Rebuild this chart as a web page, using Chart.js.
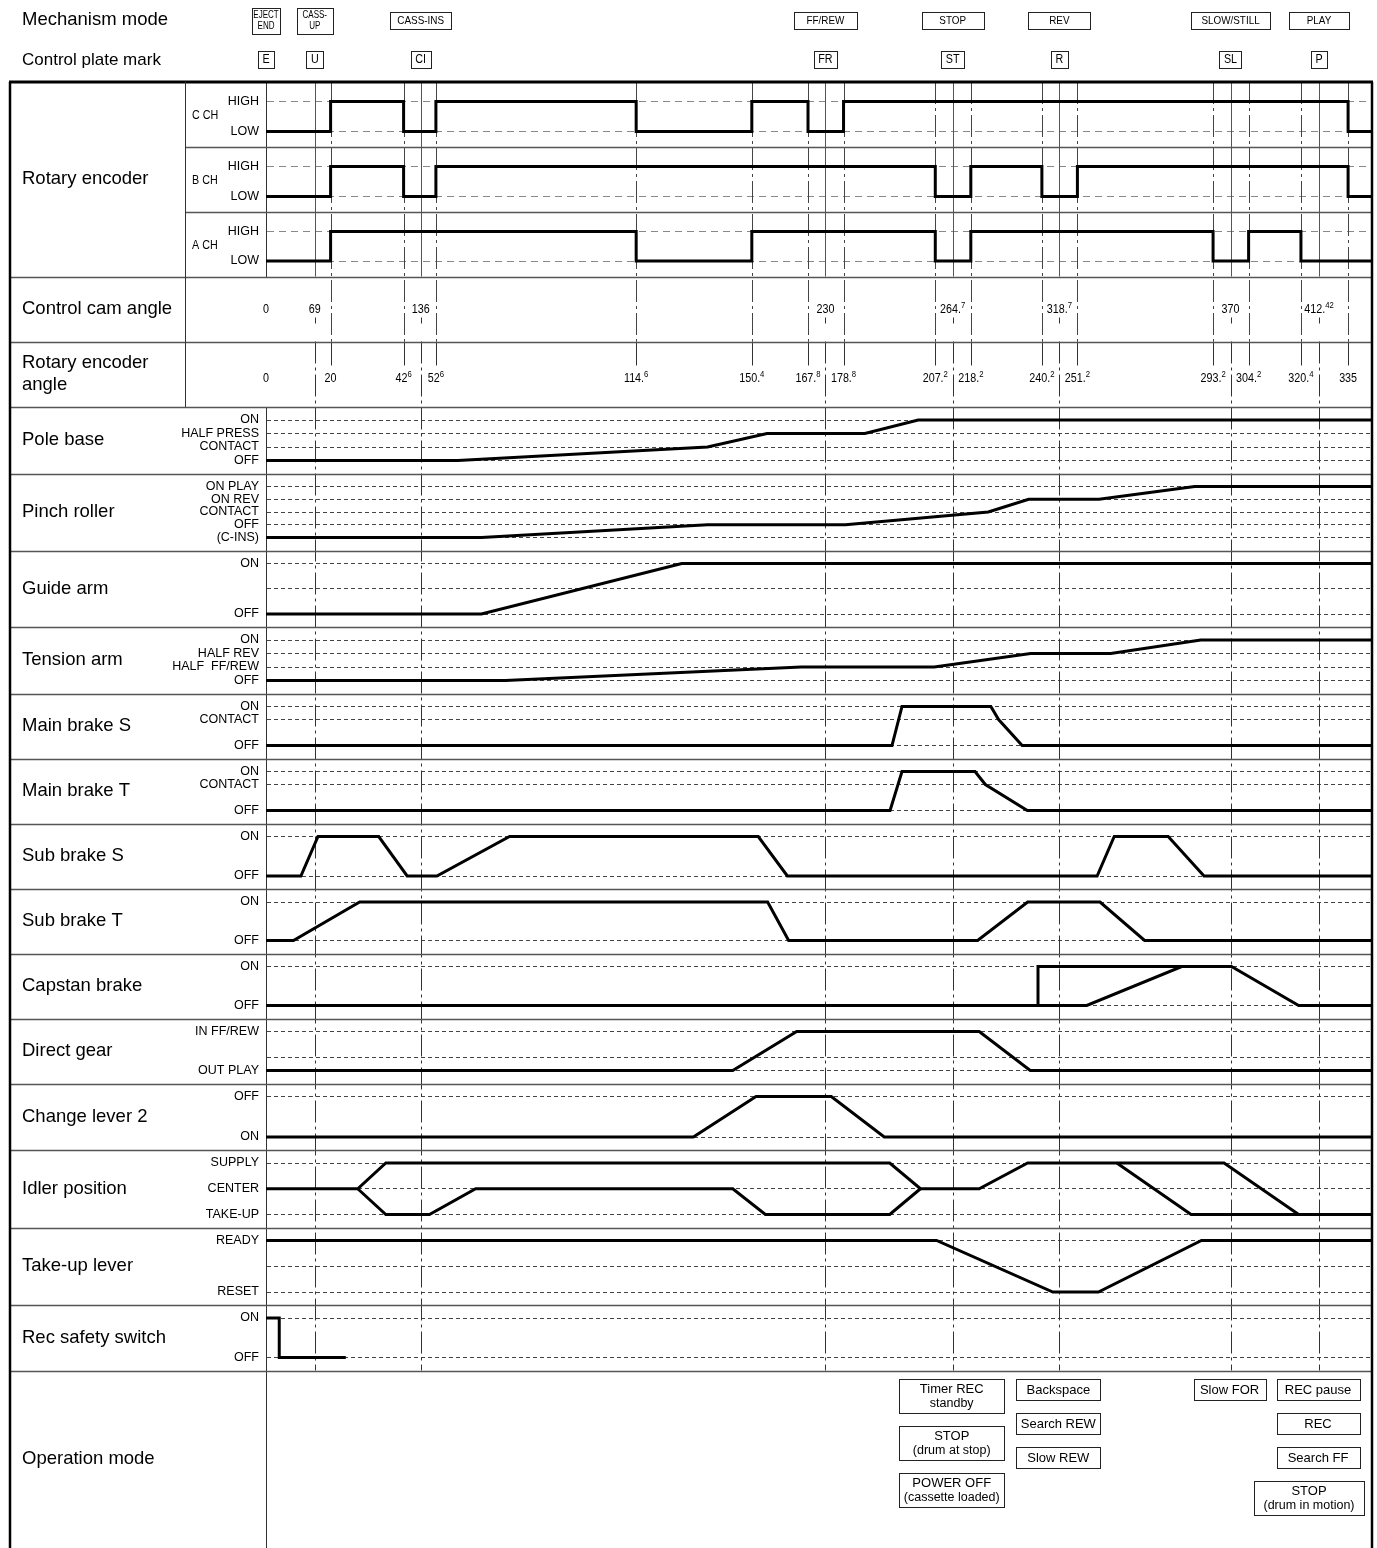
<!DOCTYPE html>
<html>
<head>
<meta charset="utf-8">
<title>Mechanism timing chart</title>
<script src="https://cdn.jsdelivr.net/npm/chart.js@4.4.1/dist/chart.umd.min.js"></script>
<style>
  html, body { margin: 0; padding: 0; background: #fff; }
  canvas { display: block; }
</style>
</head>
<body>
<canvas id="timingChart" width="1377" height="1548"></canvas>
<script>
// ---- data -------------------------------------------------------------
const X_END = 342.4;

// rotary encoder edges (deg) and how the angle is printed ("^" = raised part)
const encoderAngles = [0, 20, 42.6, 52.6, 114.6, 150.4, 167.8, 178.8, 207.2, 218.2, 240.2, 251.2, 293.2, 304.2, 320.4, 335];
const encoderAngleLabels = ['0', '20', '42^6', '52^6', '114.^6', '150.^4', '167.^8', '178.^8', '207.^2', '218.^2', '240.^2', '251.^2', '293.^2', '304.^2', '320.^4', '335'];

// control plate positions (in encoder deg), marks, mechanism modes, cam angles
const modeAngles = [0, 15.1, 47.9, 173.2, 212.6, 245.6, 298.6, 326.0];
const plateMarks = ['E', 'U', 'CI', 'FR', 'ST', 'R', 'SL', 'P'];
const mechanismModes = ['EJECT\nEND', 'CASS-\nUP', 'CASS-INS', 'FF/REW', 'STOP', 'REV', 'SLOW/STILL', 'PLAY'];
const camAngleLabels = ['0', '69', '136', '230', '264.^7', '318.^7', '370', '412.^42'];

// operation modes under a plate mark
const opModesST = ['Timer REC\nstandby', 'STOP\n(drum at stop)', 'POWER OFF\n(cassette loaded)'];
const opModesR = ['Backspace', 'Search REW', 'Slow REW'];
const opModesSL = ['Slow FOR'];
const opModesP = ['REC pause', 'REC', 'Search FF', 'STOP\n(drum in motion)'];

// level names, bottom level first (null = no line at that level)
const encoderLevels = ['LOW', 'HIGH'];
const poleBaseLevels = ['OFF', 'CONTACT', 'HALF PRESS', 'ON'];
const pinchRollerLevels = ['(C-INS)', 'OFF', 'CONTACT', 'ON REV', 'ON PLAY'];
const guideArmLevels = ['OFF', '', 'ON'];
const tensionArmLevels = ['OFF', 'HALF  FF/REW', 'HALF REV', 'ON'];
const mainBrakeLevels = ['OFF', null, 'CONTACT', 'ON'];
const onOffLevels = ['OFF', 'ON'];
const directGearLevels = ['OUT PLAY', '', null, 'IN FF/REW'];
const changeLeverLevels = ['ON', 'OFF'];
const idlerLevels = ['TAKE-UP', 'CENTER', 'SUPPLY'];
const takeUpLevels = ['RESET', '', 'READY'];

// encoder channels: [angle, level from that angle on]
const cChannel = [[0, 0], [20, 1], [42.6, 0], [52.6, 1], [114.6, 0], [150.4, 1], [167.8, 0], [178.8, 1], [335, 0], [X_END, 0]];
const bChannel = [[0, 0], [20, 1], [42.6, 0], [52.6, 1], [207.2, 0], [218.2, 1], [240.2, 0], [251.2, 1], [335, 0], [X_END, 0]];
const aChannel = [[0, 0], [20, 1], [114.6, 0], [150.4, 1], [207.2, 0], [218.2, 1], [293.2, 0], [304.2, 1], [320.4, 0], [X_END, 0]];
const recSafety = [[0, 1], [4.1, 0], [24.7, 0]];

// other signals: [angle, level] corner points
const poleBase = [[0, 0], [59.4, 0], [136.7, 1], [155.1, 2], [185.4, 2], [201.9, 3], [X_END, 3]];
const pinchRoller = [[0, 0], [66.7, 0], [136.7, 1], [179.4, 1], [223.6, 2], [236.1, 3], [257.9, 3], [287.5, 4], [X_END, 4]];
const guideArm = [[0, 0], [66.7, 0], [128.7, 2], [X_END, 2]];
const tensionArm = [[0, 0], [74.1, 0], [165.7, 1], [206.9, 1], [236.7, 2], [261.5, 2], [289.4, 3], [X_END, 3]];
const mainBrakeS = [[0, 0], [193.8, 0], [196.9, 3], [224.4, 3], [226.8, 2], [234.1, 0], [X_END, 0]];
const mainBrakeT = [[0, 0], [193.2, 0], [196.9, 3], [219.5, 3], [222.7, 2], [235.7, 0], [X_END, 0]];
const subBrakeS = [[0, 0], [10.8, 0], [16.1, 1], [34.9, 1], [43.7, 0], [52.9, 0], [75.4, 1], [152.4, 1], [161.4, 0], [257.3, 0], [262.6, 1], [279.3, 1], [290.4, 0], [X_END, 0]];
const subBrakeT = [[0, 0], [8.5, 0], [29.0, 1], [155.3, 1], [161.8, 0], [220.3, 0], [235.8, 1], [258.2, 1], [272.0, 0], [X_END, 0]];
const capstanBrake = [[0, 0], [254.1, 0], [283.5, 1], [298.9, 1], [319.7, 0], [X_END, 0]];
const capstanBrakeAlt = [[239.0, 0], [239.0, 1], [283.5, 1]];
const directGear = [[0, 0], [144.5, 0], [164.3, 3], [220.8, 3], [236.6, 0], [X_END, 0]];
const changeLever2 = [[0, 0], [132.3, 0], [151.7, 1], [175.0, 1], [191.4, 0], [X_END, 0]];
const idlerMain = [[0, 1], [28.4, 1], [37.1, 2], [193.1, 2], [202.6, 1], [220.8, 1], [235.8, 2], [296.6, 2], [319.7, 0], [X_END, 0]];
const idlerLow = [[28.4, 1], [37.1, 0], [50.6, 0], [64.9, 1], [144.5, 1], [154.6, 0], [193.1, 0], [202.6, 1]];
const idlerSlow = [[263.4, 2], [286.4, 0], [319.7, 0]];
const takeUpLever = [[0, 2], [207.6, 2], [243.6, 0], [257.7, 0], [289.6, 2], [X_END, 2]];

// row titles (left column)
const rowTitles = [null, null, null, 'Control cam angle', 'Rotary encoder\nangle', 'Pole base', 'Pinch roller', 'Guide arm',
  'Tension arm', 'Main brake S', 'Main brake T', 'Sub brake S', 'Sub brake T', 'Capstan brake', 'Direct gear',
  'Change lever 2', 'Idler position', 'Take-up lever', 'Rec safety switch', 'Operation mode'];
const channelNames = ['C CH', 'B CH', 'A CH'];

// ---- layout -------------------------------------------------------------
const ROW_IDS = ['yC', 'yB', 'yA', 'yCam', 'yEnc', 'yPole', 'yPinch', 'yGuide', 'yTension', 'yMbS', 'yMbT',
  'ySbS', 'ySbT', 'yCapstan', 'yDirect', 'yChange', 'yIdler', 'yTakeUp', 'yRec', 'yOp'];
const ROW_H = [65, 65, 64.5, 65, 65.5, 66.5, 77, 76.5, 66.5, 65, 65, 65.5, 64.5, 65, 65, 66.5, 77.5, 77.5, 65.5, 177.5];
const ROW_LEVELS = [encoderLevels, encoderLevels, encoderLevels, null, null, poleBaseLevels, pinchRollerLevels,
  guideArmLevels, tensionArmLevels, mainBrakeLevels, mainBrakeLevels, onOffLevels, onOffLevels, onOffLevels,
  directGearLevels, changeLeverLevels, idlerLevels, takeUpLevels, onOffLevels, null];
const LEFT_W = 266, FRAME_L = 10, ENC_COL_X = 185;
const TITLE_SIZE = 18.5;
const MECH_BOX_W = [28, 36, 61, 63, 62, 62, 79, 60];
const OP_BOX_W = { ST: [105, 105, 105], R: [84, 84, 84], SL: [72], P: [83, 83, 83, 110] };
const NARROW = 0.86;
const DASH_DOT = [22, 4, 3, 4];

const font = size => `${size}px "Liberation Sans", Arial, Helvetica, sans-serif`;

function steps(list) {
  const pts = [];
  list.forEach(([a, v], i) => {
    if (i > 0) pts.push([a, list[i - 1][1]]);
    pts.push([a, v]);
  });
  return pts;
}

function putText(ctx, str, x, y, size, align = 'left', sx = 1) {
  ctx.save();
  ctx.font = font(size);
  ctx.fillStyle = '#000';
  ctx.textAlign = align;
  ctx.textBaseline = 'middle';
  ctx.translate(x, y);
  ctx.scale(sx, 1);
  ctx.fillText(str, 0, 0);
  ctx.restore();
}

function textWidth(ctx, str, size, sx = 1) {
  ctx.save();
  ctx.font = font(size);
  const w = ctx.measureText(str).width * sx;
  ctx.restore();
  return w;
}

function drawAngleLabel(ctx, label, cx, cy) {
  const [whole, sup = ''] = label.split('^');
  const w1 = textWidth(ctx, whole, 12.5, NARROW);
  const w2 = sup ? textWidth(ctx, sup, 9, NARROW) : 0;
  const x0 = cx - (w1 + w2) / 2;
  putText(ctx, whole, x0, cy, 12.5, 'left', NARROW);
  if (sup) putText(ctx, sup, x0 + w1, cy - 4, 9, 'left', NARROW);
}

function strokeLine(ctx, x1, y1, x2, y2, color, width, dash) {
  ctx.save();
  ctx.strokeStyle = color;
  ctx.lineWidth = width;
  ctx.setLineDash(dash || []);
  ctx.beginPath();
  ctx.moveTo(x1, y1);
  ctx.lineTo(x2, y2);
  ctx.stroke();
  ctx.restore();
}

function drawBox(ctx, cx, top, w, h) {
  ctx.save();
  ctx.fillStyle = '#fff';
  ctx.strokeStyle = '#222';
  ctx.lineWidth = 1;
  const x = Math.round(cx - w / 2) + 0.5, y = Math.round(top) + 0.5;
  ctx.fillRect(x, y, Math.round(w), Math.round(h));
  ctx.strokeRect(x, y, Math.round(w), Math.round(h));
  ctx.restore();
}

function rowScale(i) {
  const levels = ROW_LEVELS[i];
  const h = ROW_H[i];
  const enc = i < 3;
  const padT = enc ? 19.5 : 13, padB = enc ? 15.5 : 13;
  let min = 0, max = 1;
  if (levels) {
    const unit = (h - padT - padB) / (levels.length - 1);
    min = -padB / unit;
    max = levels.length - 1 + padT / unit;
  }
  return {
    type: 'linear',
    position: 'left',
    stack: 'rows',
    stackWeight: h,
    weight: ROW_IDS.length - i,
    bounds: 'data',
    min, max,
    afterFit(s) { s.width = LEFT_W; s.paddingTop = 0; s.paddingBottom = 0; },
    afterBuildTicks(s) {
      s.ticks = levels ? levels.map((l, v) => (l === null ? null : { value: v })).filter(Boolean) : [];
    },
    ticks: {
      display: !!levels,
      autoSkip: false,
      padding: 7,
      color: '#000',
      font: { family: 'Liberation Sans', size: 12.5 },
      callback: v => (levels ? levels[v] : '')
    },
    grid: { display: !!levels, drawTicks: false, color: enc ? '#888' : '#444', lineWidth: 1 },
    border: { display: i !== 3 && i !== 4, color: '#333', width: 1, dash: enc ? [7, 5] : [4, 3] }
  };
}

const diagramPlugin = {
  id: 'diagram',
  beforeDatasetsDraw(chart) {
    const { ctx, scales: s } = chart;
    const X = a => Math.round(s.x.getPixelForValue(a)) + 0.5;
    const top = s.yC.top, encBot = s.yA.bottom;
    const camTop = s.yCam.top, camBot = s.yCam.bottom;
    const angTop = s.yEnc.top, bottom = s.yRec.bottom;
    modeAngles.forEach((a, i) => {
      if (i === 0) return;
      const x = X(a);
      strokeLine(ctx, x, top, x, encBot, '#555', 1);
      strokeLine(ctx, x, camTop + 41, x, camTop + 47, '#333', 1);
      strokeLine(ctx, x, angTop, x, bottom, '#333', 1, DASH_DOT);
    });
    encoderAngles.forEach(a => {
      if (a === 0) return;
      const x = X(a);
      strokeLine(ctx, x, top, x, camBot, '#444', 1, DASH_DOT);
      strokeLine(ctx, x, angTop, x, angTop + 24, '#333', 1);
    });
  },
  afterDraw(chart) {
    const { ctx, scales: s } = chart;
    const X = a => s.x.getPixelForValue(a);
    const right = chart.chartArea.right;
    const top = s.yC.top;

    // row separators and frame
    ROW_IDS.forEach((id, i) => {
      if (i === 0) return;
      const y = Math.round(s[id].top) + 0.5;
      strokeLine(ctx, i < 3 ? ENC_COL_X : FRAME_L, y, right, y, '#555', 1.5);
    });
    strokeLine(ctx, FRAME_L - 1, top, right + 1, top, '#000', 3);
    strokeLine(ctx, FRAME_L, top, FRAME_L, chart.height, '#000', 2.5);
    strokeLine(ctx, right, top, right, chart.height, '#000', 2.5);
    strokeLine(ctx, ENC_COL_X + 0.5, top, ENC_COL_X + 0.5, s.yEnc.bottom, '#333', 1);

    // left column
    putText(ctx, 'Rotary encoder', 22, (s.yC.top + s.yA.bottom) / 2, TITLE_SIZE);
    channelNames.forEach((n, i) => {
      const sc = s[ROW_IDS[i]];
      putText(ctx, n, 192, (sc.top + sc.bottom) / 2 + 1, 12.5, 'left', NARROW);
    });
    rowTitles.forEach((t, i) => {
      if (!t) return;
      const sc = s[ROW_IDS[i]];
      const cy = (sc.top + sc.bottom) / 2;
      const lines = t.split('\n');
      lines.forEach((ln, k) => putText(ctx, ln, 22, cy + (k - (lines.length - 1) / 2) * 22, TITLE_SIZE));
    });

    // mechanism mode / plate mark rows
    putText(ctx, 'Mechanism mode', 22, 20, TITLE_SIZE);
    putText(ctx, 'Control plate mark', 22, 60, 17);
    mechanismModes.forEach((m, i) => {
      const cx = X(modeAngles[i]);
      const lines = m.split('\n');
      if (lines.length > 1) {
        drawBox(ctx, cx, 8, MECH_BOX_W[i], 26);
        putText(ctx, lines[0], cx, 15.5, 10, 'center', 0.8);
        putText(ctx, lines[1], cx, 26.5, 10, 'center', 0.8);
      } else {
        drawBox(ctx, cx, 12, MECH_BOX_W[i], 17);
        putText(ctx, m, cx, 21, 11.5, 'center', NARROW);
      }
    });
    plateMarks.forEach((m, i) => {
      const cx = X(modeAngles[i]);
      drawBox(ctx, cx, 51, textWidth(ctx, m, 12.5, NARROW) + 9, 17);
      putText(ctx, m, cx, 60, 12.5, 'center', NARROW);
    });

    // angle labels
    const camY = s.yCam.top + 33, encY = s.yEnc.top + 37;
    camAngleLabels.forEach((l, i) => drawAngleLabel(ctx, l, X(modeAngles[i]), camY));
    encoderAngleLabels.forEach((l, i) => drawAngleLabel(ctx, l, X(encoderAngles[i]), encY));

    // operation mode boxes
    const opTop = s.yOp.top + 8.5;
    const groups = [[opModesST, 4, OP_BOX_W.ST], [opModesR, 5, OP_BOX_W.R], [opModesSL, 6, OP_BOX_W.SL], [opModesP, 7, OP_BOX_W.P]];
    groups.forEach(([list, mi, widths]) => {
      let y = opTop;
      list.forEach((m, k) => {
        const w = widths[k];
        const cx = Math.min(X(modeAngles[mi]) - 1, right - 8 - w / 2);
        const lines = m.split('\n');
        const h = lines.length > 1 ? 34 : 21;
        drawBox(ctx, cx, y, w, h);
        if (lines.length > 1) {
          putText(ctx, lines[0], cx, y + 10.5, 13, 'center');
          putText(ctx, lines[1], cx, y + 24.5, 12.5, 'center');
        } else {
          putText(ctx, m, cx, y + h / 2 + 0.5, 13, 'center');
        }
        y += h + 13;
      });
    });
  }
};

const sig = (yAxisID, data) => ({
  data, yAxisID, xAxisID: 'x',
  borderColor: '#000', borderWidth: 3, borderJoinStyle: 'miter',
  pointRadius: 0, pointHoverRadius: 0, fill: false, tension: 0
});

const scales = {
  x: { type: 'linear', min: 0, max: X_END, bounds: 'data', display: false }
};
ROW_IDS.forEach((id, i) => { scales[id] = rowScale(i); });

Chart.defaults.font.family = '"Liberation Sans", Arial, sans-serif';

new Chart(document.getElementById('timingChart'), {
  type: 'line',
  data: {
    datasets: [
      sig('yC', steps(cChannel)),
      sig('yB', steps(bChannel)),
      sig('yA', steps(aChannel)),
      sig('yPole', poleBase),
      sig('yPinch', pinchRoller),
      sig('yGuide', guideArm),
      sig('yTension', tensionArm),
      sig('yMbS', mainBrakeS),
      sig('yMbT', mainBrakeT),
      sig('ySbS', subBrakeS),
      sig('ySbT', subBrakeT),
      sig('yCapstan', capstanBrake),
      sig('yCapstan', capstanBrakeAlt),
      sig('yDirect', directGear),
      sig('yChange', changeLever2),
      sig('yIdler', idlerMain),
      sig('yIdler', idlerLow),
      sig('yIdler', idlerSlow),
      sig('yTakeUp', takeUpLever),
      sig('yRec', steps(recSafety))
    ]
  },
  options: {
    responsive: false,
    devicePixelRatio: 1,
    animation: false,
    events: [],
    layout: { padding: { top: 82, right: 5, bottom: 0, left: 0 } },
    plugins: { legend: { display: false }, tooltip: { enabled: false } },
    scales
  },
  plugins: [diagramPlugin]
});
</script>
</body>
</html>
